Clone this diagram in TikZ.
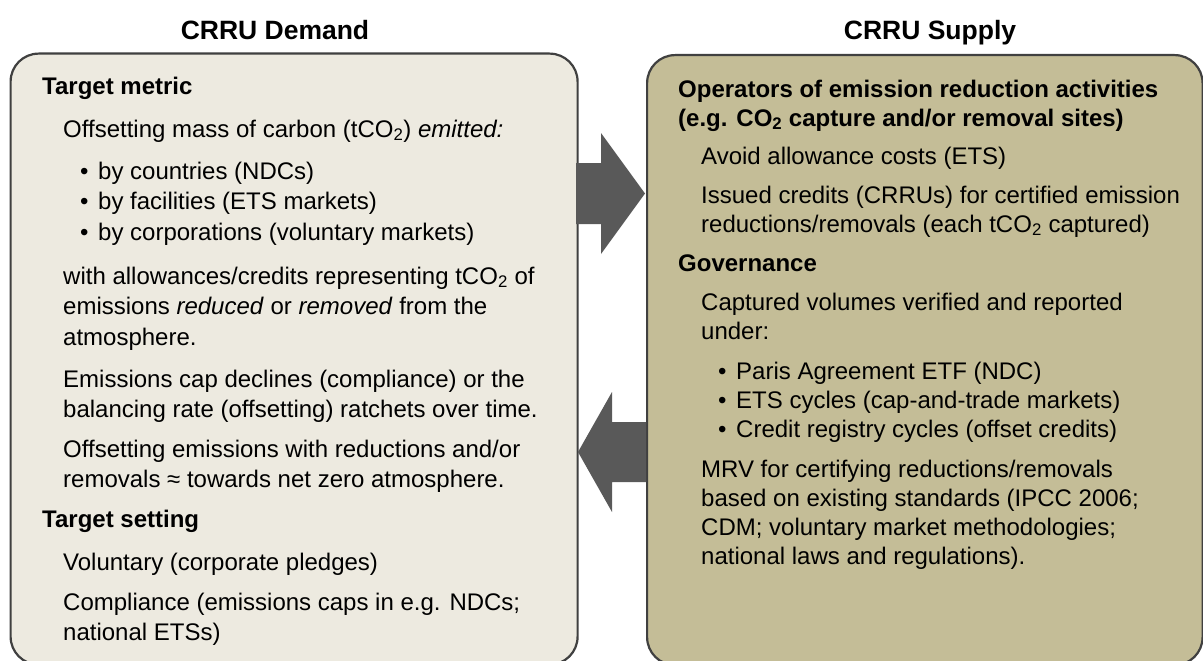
\documentclass[tikz,border=0pt]{standalone}
\usepackage{fontspec}
\setmainfont{Liberation Sans}
\definecolor{edge}{HTML}{404040}
\definecolor{demandfill}{HTML}{EDEAE0}
\definecolor{supplyfill}{HTML}{C4BD97}
\definecolor{arrowfill}{HTML}{595959}
\newcommand{\cotwo}{CO\textsubscript{2}}
\tikzset{
  box/.style={draw=edge, line width=2.2pt, rounded corners=28pt, anchor=north west, inner sep=0pt},
  txt/.style={anchor=base west, inner sep=0pt, font=\fontsize{24}{29.8}\selectfont},
  head/.style={txt, font=\fontsize{24}{29.8}\selectfont\bfseries},
  title/.style={anchor=base, inner sep=0pt, font=\fontsize{26.5}{30}\selectfont\bfseries},
  bul/.style={anchor=base west, inner sep=0pt, font=\fontsize{24}{29.8}\selectfont},
  blockarrow/.style={fill=arrowfill, draw=none}
}
\begin{document}
\begin{tikzpicture}[x=1pt,y=-1pt]
\useasboundingbox (0,0) rectangle (1203,661);
\fill[white] (0,0) rectangle (1203,661);

% boxes
\node[box, fill=demandfill, minimum width=567pt, minimum height=611pt] (demand) at (9.5,52.5) {};
\node[box, fill=supplyfill, minimum width=555.5pt, minimum height=610pt] (supply) at (646,54) {};

% block arrows
\fill[blockarrow] (576,163) -- (601,163) -- (601,133) -- (645,193.5) -- (601,254) -- (601,224) -- (576,224) -- cycle;
\fill[blockarrow] (646,422) -- (612,422) -- (612,392) -- (578,452) -- (612,512) -- (612,482) -- (646,482) -- cycle;

% titles
\node[title] (tdemand) at (275,40) {CRRU Demand};
\node[title] (tsupply) at (930,40) {CRRU Supply};

% demand text
\node[head] (d1) at (42,95) {Target metric};
\node[txt] (d2) at (63,137) {Offsetting mass of carbon (t\cotwo) \textit{emitted:}};
\node[bul] (db1) at (80,179) {•};
\node[txt] (d3) at (98,179) {by countries (NDCs)};
\node[bul] (db2) at (80,209.5) {•};
\node[txt] (d4) at (98,209.5) {by facilities (ETS markets)};
\node[bul] (db3) at (80,240) {•};
\node[txt] (d5) at (98,240) {by corporations (voluntary markets)};
\node[txt] (d6) at (63,284) {with allowances/credits representing t\cotwo{} of};
\node[txt] (d7) at (63,314.5) {emissions \textit{reduced} or \textit{removed} from the};
\node[txt] (d8) at (63,345) {atmosphere.};
\node[txt] (d9) at (63,387) {Emissions cap declines (compliance) or the};
\node[txt] (d10) at (63,417.5) {balancing rate (offsetting) ratchets over time.};
\node[txt] (d11) at (63,457) {Offsetting emissions with reductions and/or};
\node[txt] (d12) at (63,487.5) {removals ≈ towards net zero atmosphere.};
\node[head] (d13) at (42,527) {Target setting};
\node[txt] (d14) at (63,570) {Voluntary (corporate pledges)};
\node[txt] (d15) at (63,610) {Compliance (emissions caps in e.g. NDCs;};
\node[txt] (d16) at (63,640.5) {national ETSs)};

% supply text
\node[head] (s1) at (678,97) {Operators of emission reduction activities};
\node[head] (s2) at (678,126) {(e.g. \cotwo{} capture and/or removal sites)};
\node[txt] (s3) at (701,164) {Avoid allowance costs (ETS)};
\node[txt] (s4) at (701,203) {Issued credits (CRRUs) for certified emission};
\node[txt] (s5) at (701,232) {reductions/removals (each t\cotwo{} captured)};
\node[head] (s6) at (678,271) {Governance};
\node[txt] (s7) at (701,310) {Captured volumes verified and reported};
\node[txt] (s8) at (701,339) {under:};
\node[bul] (sb1) at (718,379) {•};
\node[txt] (s9) at (736,379) {Paris Agreement ETF (NDC)};
\node[bul] (sb2) at (718,408) {•};
\node[txt] (s10) at (736,408) {ETS cycles (cap-and-trade markets)};
\node[bul] (sb3) at (718,437) {•};
\node[txt] (s11) at (736,437) {Credit registry cycles (offset credits)};
\node[txt] (s12) at (701,477) {MRV for certifying reductions/removals};
\node[txt] (s13) at (701,506) {based on existing standards (IPCC 2006;};
\node[txt] (s14) at (701,535) {CDM; voluntary market methodologies;};
\node[txt] (s15) at (701,564) {national laws and regulations).};
\end{tikzpicture}
\end{document}
